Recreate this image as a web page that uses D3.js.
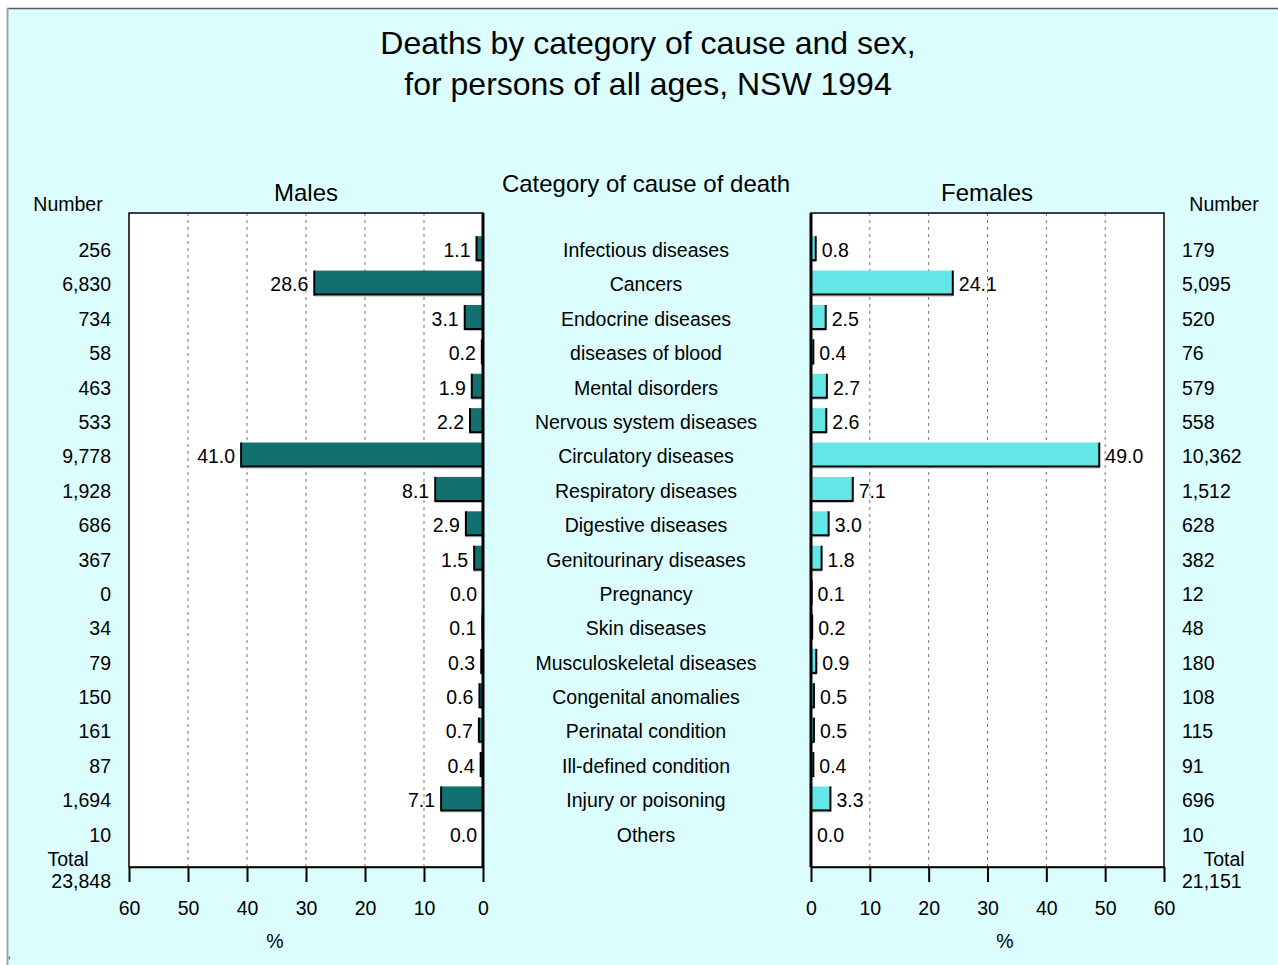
<!DOCTYPE html>
<html>
<head>
<meta charset="utf-8">
<script src="https://cdn.jsdelivr.net/npm/d3@7"></script>
<style>
  html, body { margin: 0; padding: 0; background: #ffffff; }
  svg { display: block; font-family: "Liberation Sans", Arial, sans-serif; }
</style>
</head>
<body>
<svg id="chart" width="1278" height="965"></svg>
<script>
// Causes of death, NSW 1994, all ages
const categories = [
  "Infectious diseases", "Cancers", "Endocrine diseases", "diseases of blood",
  "Mental disorders", "Nervous system diseases", "Circulatory diseases",
  "Respiratory diseases", "Digestive diseases", "Genitourinary diseases",
  "Pregnancy", "Skin diseases", "Musculoskeletal diseases", "Congenital anomalies",
  "Perinatal condition", "Ill-defined condition", "Injury or poisoning", "Others"
];
const malePct = [1.1, 28.6, 3.1, 0.2, 1.9, 2.2, 41.0, 8.1, 2.9, 1.5, 0.0, 0.1, 0.3, 0.6, 0.7, 0.4, 7.1, 0.0];
const maleNumber = [256, 6830, 734, 58, 463, 533, 9778, 1928, 686, 367, 0, 34, 79, 150, 161, 87, 1694, 10];
const femalePct = [0.8, 24.1, 2.5, 0.4, 2.7, 2.6, 49.0, 7.1, 3.0, 1.8, 0.1, 0.2, 0.9, 0.5, 0.5, 0.4, 3.3, 0.0];
const femaleNumber = [179, 5095, 520, 76, 579, 558, 10362, 1512, 628, 382, 12, 48, 180, 108, 115, 91, 696, 10];
const maleTotal = 23848;
const femaleTotal = 21151;
const pctTicks = [0, 10, 20, 30, 40, 50, 60];

const svg = d3.select("#chart");
const W = 1278, H = 965;
const fmtNum = d3.format(",");
const fmtPct = d3.format(".1f");

const bg = "#dcfdfd";
const maleColor = "#127170";
const femaleColor = "#62e7e6";
const FS = 19.5; // body text size

// Frame: white margin, dark top rule, grey left rule, cyan panel
svg.append("rect").attr("width", W).attr("height", H).attr("fill", "#ffffff");
svg.append("rect").attr("x", 8).attr("y", 8).attr("width", W - 8).attr("height", H - 8).attr("fill", bg);
svg.append("line").attr("x1", 7).attr("x2", W).attr("y1", 8.5).attr("y2", 8.5)
  .attr("stroke", "#555a5a").attr("stroke-width", 1.5);
svg.append("line").attr("x1", 7.5).attr("x2", 7.5).attr("y1", 8).attr("y2", H)
  .attr("stroke", "#95a8a8").attr("stroke-width", 2);
svg.append("text").attr("x", 8).attr("y", 958).attr("font-size", 10).attr("fill", "#000").text(",");

// Title
const title = svg.append("text").attr("text-anchor", "middle").attr("font-size", 32).attr("fill", "#000");
title.append("tspan").attr("x", 648).attr("y", 54).text("Deaths by category of cause and sex,");
title.append("tspan").attr("x", 648).attr("y", 95).text("for persons of all ages, NSW 1994");

// Shared vertical scale
const plotTop = 213, plotBottom = 867;
const y = d3.scaleBand().domain(categories).range([233, 852]).paddingInner(0.3).paddingOuter(0.15);
const rowY = c => y(c) + y.bandwidth() / 2;
const barH = 24;

// Horizontal scales
const xM = d3.scaleLinear().domain([0, 60]).range([483, 129]);
const xF = d3.scaleLinear().domain([0, 60]).range([811, 1164]);

function drawPanel(x, values, color, dir) {
  const g = svg.append("g");
  const x0 = x(0), x60 = x(60);
  const left = Math.min(x0, x60), right = Math.max(x0, x60);
  g.append("rect").attr("x", left).attr("y", plotTop).attr("width", right - left)
    .attr("height", plotBottom - plotTop).attr("fill", "#ffffff");
  // dotted grid lines
  g.selectAll("line.grid").data(pctTicks.filter(t => t > 0 && t < 60)).join("line")
    .attr("class", "grid")
    .attr("x1", d => x(d)).attr("x2", d => x(d))
    .attr("y1", plotTop).attr("y2", plotBottom)
    .attr("stroke", "#777").attr("stroke-width", 1).attr("stroke-dasharray", "3,4");
  // bars with dark outer-end and bottom edges
  const bars = g.selectAll("g.bar").data(categories).join("g").attr("class", "bar");
  bars.each(function(c, i) {
    const v = values[i];
    const xe = x(v);
    const yt = rowY(c) - barH / 2 - 2;
    const bx = Math.min(x0, xe), bw = Math.abs(xe - x0);
    const s = d3.select(this);
    s.append("line").attr("x1", bx).attr("x2", bx + bw).attr("y1", yt + barH + 1.5).attr("y2", yt + barH + 1.5)
      .attr("stroke", "#bbbbbb").attr("stroke-width", 1);
    s.append("rect").attr("x", bx).attr("y", yt).attr("width", bw).attr("height", barH).attr("fill", color);
    s.append("line").attr("x1", bx).attr("x2", bx + bw).attr("y1", yt + barH).attr("y2", yt + barH)
      .attr("stroke", "#000").attr("stroke-width", 2);
    s.append("line").attr("x1", xe).attr("x2", xe).attr("y1", yt).attr("y2", yt + barH + 1)
      .attr("stroke", "#000").attr("stroke-width", 2);
    s.append("text")
      .attr("x", xe + dir * 6)
      .attr("y", rowY(c))
      .attr("dy", "0.35em")
      .attr("text-anchor", dir < 0 ? "end" : "start")
      .attr("font-size", FS).attr("fill", "#000")
      .text(fmtPct(v));
  });
  // frame
  g.append("rect").attr("x", left).attr("y", plotTop).attr("width", right - left)
    .attr("height", plotBottom - plotTop).attr("fill", "none").attr("stroke", "#000").attr("stroke-width", 1.5);
  // zero axis line
  g.append("line").attr("x1", x0).attr("x2", x0).attr("y1", plotTop).attr("y2", plotBottom)
    .attr("stroke", "#000").attr("stroke-width", 3);
  // bottom axis
  const axis = d3.axisBottom(x).tickValues(pctTicks).tickSize(15).tickPadding(19).tickSizeOuter(0);
  const ag = svg.append("g").attr("transform", `translate(0,${plotBottom})`).call(axis);
  ag.select(".domain").attr("stroke", "#000").attr("stroke-width", 1.5);
  ag.selectAll(".tick line").attr("stroke", "#000").attr("stroke-width", 2);
  ag.selectAll(".tick text").attr("font-size", FS).attr("fill", "#000")
    .attr("font-family", "Liberation Sans, Arial, sans-serif");
}

drawPanel(xM, malePct, maleColor, -1);
drawPanel(xF, femalePct, femaleColor, 1);

// Panel headings
svg.append("text").attr("x", 306).attr("y", 201).attr("text-anchor", "middle").attr("font-size", 24).text("Males");
svg.append("text").attr("x", 987).attr("y", 201).attr("text-anchor", "middle").attr("font-size", 24).text("Females");
svg.append("text").attr("x", 646).attr("y", 192).attr("text-anchor", "middle").attr("font-size", 24).text("Category of cause of death");
svg.append("text").attr("x", 68).attr("y", 211).attr("text-anchor", "middle").attr("font-size", FS).text("Number");
svg.append("text").attr("x", 1224).attr("y", 211).attr("text-anchor", "middle").attr("font-size", FS).text("Number");

// Category labels
svg.append("g").selectAll("text").data(categories).join("text")
  .attr("x", 646).attr("y", d => rowY(d)).attr("dy", "0.35em")
  .attr("text-anchor", "middle").attr("font-size", FS).text(d => d);

// Number columns
svg.append("g").selectAll("text").data(categories).join("text")
  .attr("x", 111).attr("y", d => rowY(d)).attr("dy", "0.35em")
  .attr("text-anchor", "end").attr("font-size", FS).text((d, i) => fmtNum(maleNumber[i]));
svg.append("g").selectAll("text").data(categories).join("text")
  .attr("x", 1182).attr("y", d => rowY(d)).attr("dy", "0.35em")
  .attr("text-anchor", "start").attr("font-size", FS).text((d, i) => fmtNum(femaleNumber[i]));

// Totals
svg.append("text").attr("x", 68).attr("y", 866).attr("text-anchor", "middle").attr("font-size", FS).text("Total");
svg.append("text").attr("x", 111).attr("y", 888).attr("text-anchor", "end").attr("font-size", FS).text(fmtNum(maleTotal));
svg.append("text").attr("x", 1224).attr("y", 866).attr("text-anchor", "middle").attr("font-size", FS).text("Total");
svg.append("text").attr("x", 1182).attr("y", 888).attr("text-anchor", "start").attr("font-size", FS).text(fmtNum(femaleTotal));

// Axis titles
svg.append("text").attr("x", 275).attr("y", 948).attr("text-anchor", "middle").attr("font-size", FS).text("%");
svg.append("text").attr("x", 1005).attr("y", 948).attr("text-anchor", "middle").attr("font-size", FS).text("%");
</script>
</body>
</html>
